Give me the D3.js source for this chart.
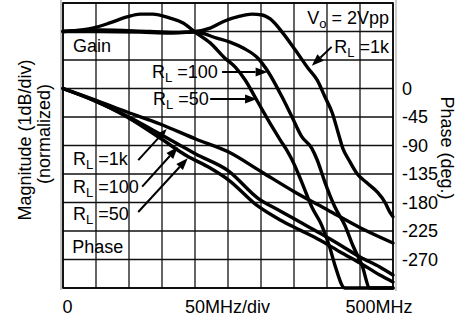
<!DOCTYPE html>
<html>
<head>
<meta charset="utf-8">
<script src="https://cdn.jsdelivr.net/npm/d3@7/dist/d3.min.js"></script>
<style>
  html, body { margin: 0; padding: 0; background: #fff; }
  svg { display: block; }
  text { font-family: "Liberation Sans", Arial, Helvetica, sans-serif; fill: #000; }
</style>
</head>
<body>
<svg id="chart" width="468" height="325"></svg>
<script>
// ---- Axis ticks and labels ----
const freqTicks = d3.range(0, 501, 50);          // MHz, one grid division = 50 MHz
const gainTicks = d3.range(-9, 2, 1);            // dB, one grid division = 1 dB
const phaseTicks = [0, -45, -90, -135, -180, -225, -270];
const freqLabelValues = [0, 250, 500];
const freqLabels = ["0", "50MHz/div", "500MHz"];

// ---- Normalized gain (dB) vs frequency (MHz) ----
const gain1kFreq = [0, 56, 132, 177, 200, 223, 245, 268, 286, 302, 314, 332, 352, 371, 385, 397, 408, 417, 424, 433, 445, 460, 476, 488, 495, 500];
const gain1kDb   = [0, 0.05, 0, -0.03, 0, 0.12, 0.37, 0.54, 0.61, 0.58, 0.44, -0.02, -0.65, -1.28, -1.7, -2.3, -2.86, -3.56, -4.1, -4.5, -4.97, -5.3, -5.63, -6.0, -6.33, -6.5];

const gain100Freq = [0, 56, 117, 162, 200, 233, 253, 273, 295, 311, 332, 347, 362, 377, 385, 397, 412, 427, 439, 453, 465, 500];
const gain100Db   = [0, 0, -0.02, -0.05, -0.02, -0.23, -0.37, -0.58, -0.93, -1.42, -2.3, -3.0, -3.7, -4.1, -4.5, -5.3, -6.16, -6.8, -7.5, -8.2, -9, -9];

const gain50Freq = [0, 45, 71, 97, 117, 136, 162, 182, 200, 223, 245, 261, 276, 291, 302, 317, 329, 339, 347, 362, 377, 392, 404, 412, 427, 500];
const gain50Db   = [0, 0.12, 0.3, 0.51, 0.61, 0.61, 0.47, 0.3, -0.02, -0.4, -0.93, -1.25, -1.7, -2.3, -2.75, -3.35, -3.8, -4.16, -4.5, -5.3, -6.16, -6.8, -7.56, -8.2, -9, -9];

// ---- Phase (degrees) vs frequency (MHz) ----
const phase1kFreq = [0, 45, 97, 147, 201, 251, 301, 351, 401, 451, 500];
const phase1kDeg  = [0, -16.6, -37.1, -56, -79.7, -100.3, -131.8, -163.4, -191.8, -220.2, -243.9];

const phase100Freq = [0, 45, 97, 147, 174, 201, 251, 295, 329, 359, 389, 420, 450, 480, 500];
const phase100Deg  = [0, -18.2, -43.4, -71.8, -87.6, -103.4, -130.3, -172.9, -193.4, -210.8, -228.2, -247.1, -266, -281.8, -294.5];

const phase50Freq = [0, 45, 97, 147, 188, 223, 251, 295, 329, 359, 389, 420, 450, 480, 500];
const phase50Deg  = [0, -18.2, -45, -78.2, -106.6, -125.5, -144.5, -185.5, -207.6, -223.4, -239.2, -258.1, -275.5, -294.5, -305.5];

// ---- Scales ----
const svg = d3.select("#chart");
const x = d3.scaleLinear().domain([0, 500]).range([63, 393]);
const yGain = d3.scaleLinear().domain([-9, 1]).range([288, 3]);
const yPhase = d3.scaleLinear().domain([-315, 135]).range([288, 3]);

// ---- Grid ----
const grid = svg.append("g").attr("stroke", "#111").attr("stroke-width", 1.3);
grid.selectAll("line.v").data(freqTicks).join("line")
  .attr("x1", d => x(d)).attr("x2", d => x(d))
  .attr("y1", yGain(-9)).attr("y2", yGain(1));
grid.selectAll("line.h").data(gainTicks).join("line")
  .attr("x1", x(0)).attr("x2", x(500))
  .attr("y1", d => yGain(d)).attr("y2", d => yGain(d));

// frame edges
svg.append("line").attr("x1", x(0) - 2).attr("x2", x(0) - 2).attr("y1", 0).attr("y2", yGain(-9) + 2)
  .attr("stroke", "#888").attr("stroke-width", 1);
svg.append("line").attr("x1", x(500) + 3).attr("x2", x(500) + 3).attr("y1", 0).attr("y2", yGain(-9) + 3)
  .attr("stroke", "#999").attr("stroke-width", 1);
svg.append("rect").attr("x", x(0)).attr("y", yGain(1))
  .attr("width", x(500) - x(0)).attr("height", yGain(-9) - yGain(1))
  .attr("fill", "none").attr("stroke", "#000").attr("stroke-width", 1.6);

// ---- Curves ----
const zipSeries = (fs, vs) => fs.map((f, i) => [f, vs[i]]);
const gainLine = d3.line().x(d => x(d[0])).y(d => yGain(d[1])).curve(d3.curveMonotoneX);
const phaseLine = d3.line().x(d => x(d[0])).y(d => yPhase(d[1])).curve(d3.curveMonotoneX);

const curves = svg.append("g").attr("fill", "none").attr("stroke", "#000")
  .attr("stroke-width", 3.4).attr("stroke-linejoin", "round").attr("stroke-linecap", "round");

[[phase1kFreq, phase1kDeg], [phase100Freq, phase100Deg], [phase50Freq, phase50Deg]]
  .forEach(([f, v]) => curves.append("path").attr("d", phaseLine(zipSeries(f, v))));
[[gain1kFreq, gain1kDb], [gain100Freq, gain100Db], [gain50Freq, gain50Db]]
  .forEach(([f, v]) => curves.append("path").attr("d", gainLine(zipSeries(f, v))));

// ---- Axes ----
const bottom = svg.append("g").attr("transform", `translate(0,${yGain(-9)})`)
  .call(d3.axisBottom(x).tickValues(freqLabelValues).tickSize(0)
    .tickFormat((d, i) => freqLabels[i]));
bottom.select(".domain").remove();
bottom.selectAll("text")
  .attr("font-size", 18).attr("font-family", null)
  .attr("y", 25).attr("dy", 0)
  .attr("text-anchor", (d, i) => i === 0 ? "start" : (i === 2 ? "end" : "middle"))
  .attr("dx", (d, i) => i === 0 ? -1 : (i === 2 ? 19 : -1));

const right = svg.append("g").attr("transform", `translate(${x(500)},0)`)
  .call(d3.axisRight(yPhase).tickValues(phaseTicks).tickSize(0).tickPadding(9)
    .tickFormat(d => String(d)));
right.select(".domain").remove();
right.selectAll("text").attr("font-size", 18).attr("font-family", null);

// axis titles
svg.append("text").attr("transform", "translate(31,140) rotate(-90)")
  .attr("text-anchor", "middle").attr("font-size", 18).text("Magnitude (1dB/div)");
svg.append("text").attr("transform", "translate(50,134) rotate(-90)")
  .attr("text-anchor", "middle").attr("font-size", 18).text("(normalized)");
svg.append("text").attr("transform", "translate(441,148) rotate(90)")
  .attr("text-anchor", "middle").attr("font-size", 18).text("Phase (deg.)");

// ---- Annotations ----
function label(px, py, main, sub, rest) {
  const t = svg.append("text").attr("x", px).attr("y", py).attr("font-size", 18).text(main);
  if (sub) {
    t.append("tspan").attr("font-size", 13).attr("dy", 4).text(sub);
    t.append("tspan").attr("dy", -4).text(rest);
  }
}
label(x(15), yGain(-0.72), "Gain");
label(x(370), yGain(0.26), "V", "o", " = 2Vpp");
label(x(411), yGain(-0.75), "R", "L", " =1k");
label(x(135), yGain(-1.63), "R", "L", " =100");
label(x(136.5), yGain(-2.58), "R", "L", " =50");
label(x(15), yPhase(-120.8), "R", "L", " =1k");
label(x(15), yPhase(-165), "R", "L", " =100");
label(x(15), yPhase(-207.6), "R", "L", " =50");
label(x(14), yPhase(-259.7), "Phase");

function arrow(x1, y1, x2, y2) {
  const a = Math.atan2(y2 - y1, x2 - x1), len = 12, hw = 4.5;
  const bx = x2 - len * Math.cos(a), by = y2 - len * Math.sin(a);
  svg.append("line").attr("x1", x1).attr("y1", y1).attr("x2", bx).attr("y2", by)
    .attr("stroke", "#000").attr("stroke-width", 2);
  const px = -Math.sin(a) * hw, py = Math.cos(a) * hw;
  svg.append("path")
    .attr("d", `M${x2},${y2}L${bx + px},${by + py}L${bx - px},${by - py}Z`)
    .attr("fill", "#000");
}
arrow(x(241), yGain(-1.42), x(310), yGain(-1.42));
arrow(x(223), yGain(-2.37), x(294), yGain(-2.37));
arrow(x(407), yGain(-0.54), x(377), yGain(-1.2));
arrow(x(114), yPhase(-113), x(157), yPhase(-64));
arrow(x(120), yPhase(-155), x(174), yPhase(-92.5));
arrow(x(114), yPhase(-195), x(189), yPhase(-110));
</script>
</body>
</html>
